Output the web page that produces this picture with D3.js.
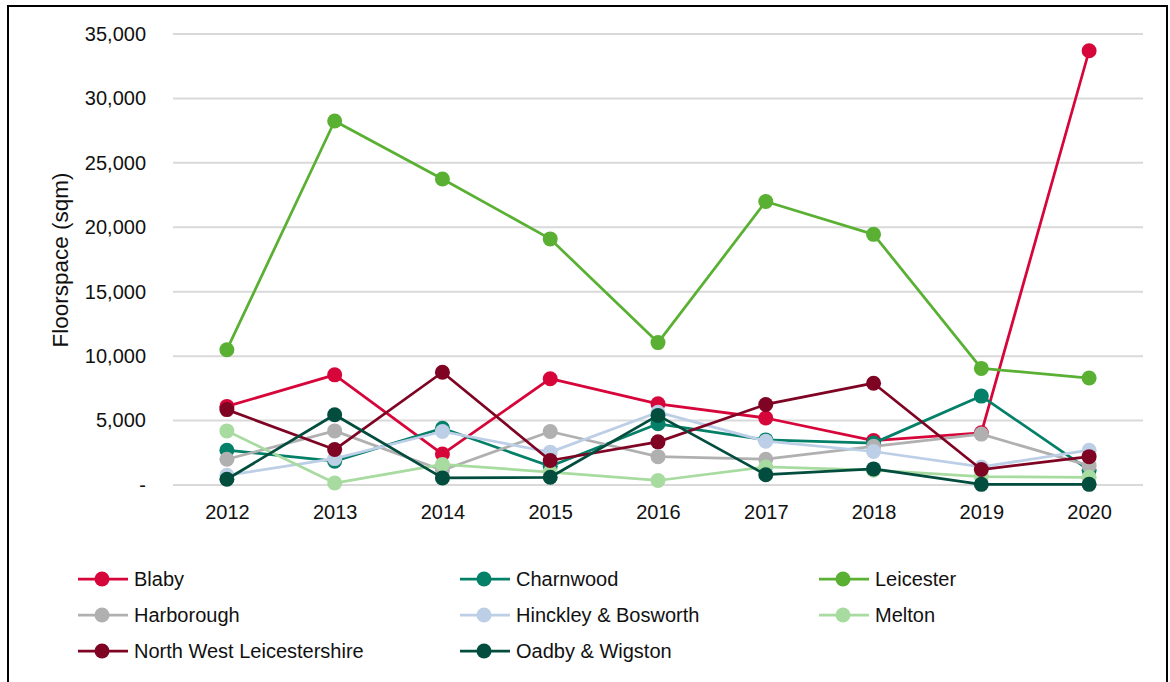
<!DOCTYPE html>
<html>
<head>
<meta charset="utf-8">
<script src="https://cdn.jsdelivr.net/npm/d3@7"></script>
<style>
  body { margin: 0; background: #fff; }
  text { font-family: "Liberation Sans", Arial, sans-serif; fill: #111; }
</style>
</head>
<body>
<svg id="chart" width="1170" height="682"></svg>
<script>
// years along the x axis
const years = ["2012", "2013", "2014", "2015", "2016", "2017", "2018", "2019", "2020"];

// floorspace (sqm) per district
const blaby      = [6100, 8550, 2400, 8250, 6300, 5200, 3450, 4050, 33700];
const charnwood  = [2700, 1850, 4400, 1450, 4750, 3500, 3250, 6900, 1150];
const leicester  = [10500, 28250, 23750, 19100, 11050, 22000, 19450, 9050, 8300];
const harborough = [2000, 4200, 1150, 4150, 2200, 2000, 3000, 3950, 1500];
const hinckley   = [750, 2050, 4150, 2550, 5650, 3400, 2600, 1400, 2700];
const melton     = [4200, 150, 1600, 1000, 350, 1400, 1150, 650, 600];
const nwl        = [5850, 2750, 8750, 1900, 3350, 6250, 7900, 1200, 2200];
const oadby      = [450, 5450, 550, 600, 5400, 800, 1250, 50, 50];

const seriesNames = ["Blaby", "Charnwood", "Leicester", "Harborough", "Hinckley & Bosworth",
                     "Melton", "North West Leicestershire", "Oadby & Wigston"];
const seriesValues = [blaby, charnwood, leicester, harborough, hinckley, melton, nwl, oadby];
const seriesColors = ["#d7063a", "#047f68", "#59b032", "#b0b0b0", "#bccfe6", "#a8dba0", "#7f0423", "#024d3e"];

const yTicks = [0, 5000, 10000, 15000, 20000, 25000, 30000, 35000];

const svg = d3.select("#chart");

// outer frame
svg.append("rect")
   .attr("x", 8).attr("y", 6)
   .attr("width", 1159).attr("height", 700)
   .attr("fill", "none")
   .attr("stroke", "#000")
   .attr("stroke-width", 2);

const x = d3.scalePoint().domain(years).range([173, 1143]).padding(0.5);
const y = d3.scaleLinear().domain([0, 35000]).range([485, 34]);

// gridlines
svg.append("g")
   .selectAll("line")
   .data(yTicks)
   .join("line")
   .attr("x1", 173).attr("x2", 1143)
   .attr("y1", d => y(d)).attr("y2", d => y(d))
   .attr("stroke", "#d9d9d9")
   .attr("stroke-width", 2);

// y axis labels (zero shows as "-")
const fmt = d3.format(",");
const yAxis = d3.axisLeft(y).tickValues(yTicks).tickSize(0).tickPadding(0)
                .tickFormat(d => d === 0 ? "-" : fmt(d));
svg.append("g")
   .attr("transform", "translate(146,0)")
   .call(yAxis)
   .call(g => g.select(".domain").remove())
   .selectAll("text")
   .attr("font-size", 20)
   .attr("fill", "#111")
   .style("font-family", "'Liberation Sans', Arial, sans-serif");

// x axis labels
const xAxis = d3.axisBottom(x).tickSize(0).tickPadding(0);
svg.append("g")
   .attr("transform", "translate(0,505)")
   .call(xAxis)
   .call(g => g.select(".domain").remove())
   .selectAll("text")
   .attr("font-size", 20)
   .attr("fill", "#111")
   .style("font-family", "'Liberation Sans', Arial, sans-serif");

// y axis title
svg.append("text")
   .attr("transform", "translate(68,260) rotate(-90)")
   .attr("text-anchor", "middle")
   .attr("font-size", 22.5)
   .text("Floorspace (sqm)");

// lines + markers, drawn in series order
const line = d3.line()
   .x((d, i) => x(years[i]))
   .y(d => y(d));

seriesValues.forEach((vals, s) => {
    const g = svg.append("g");
    g.append("path")
     .attr("d", line(vals))
     .attr("fill", "none")
     .attr("stroke", seriesColors[s])
     .attr("stroke-width", 2.75)
     .attr("stroke-linejoin", "round");
    g.selectAll("circle")
     .data(vals)
     .join("circle")
     .attr("cx", (d, i) => x(years[i]))
     .attr("cy", d => y(d))
     .attr("r", 7.5)
     .attr("fill", seriesColors[s]);
});

// legend: three columns, filled row by row
const legendX = [78, 460, 819];
const legendY = [579, 615, 651];
const legend = svg.append("g")
   .selectAll("g")
   .data(seriesNames)
   .join("g")
   .attr("transform", (d, i) => `translate(${legendX[i % 3]},${legendY[Math.floor(i / 3)]})`);

legend.append("line")
   .attr("x1", 0).attr("x2", 50)
   .attr("stroke", (d, i) => seriesColors[i])
   .attr("stroke-width", 2.75);
legend.append("circle")
   .attr("cx", 24).attr("r", 7.5)
   .attr("fill", (d, i) => seriesColors[i]);
legend.append("text")
   .attr("x", 56).attr("dy", "0.35em")
   .attr("font-size", 20)
   .text(d => d);
</script>
</body>
</html>
